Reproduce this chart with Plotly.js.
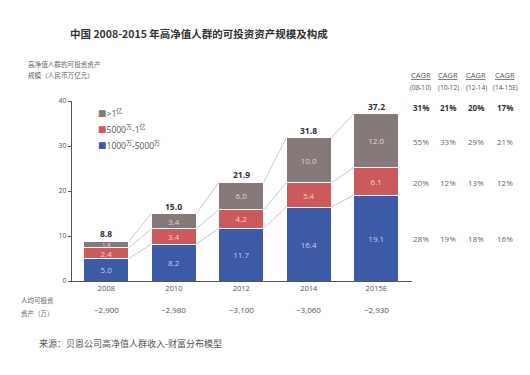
<!DOCTYPE html>
<html>
<head>
<meta charset="utf-8">
<script src="https://cdn.plot.ly/plotly-3.0.1.min.js"></script>
<style>html,body{margin:0;padding:0;background:#fff;}</style>
</head>
<body>
<div id="chart" style="width:530px;height:375px;"></div>
<script>
// ---- data ----
const years = ['2008', '2010', '2012', '2014', '2015E'];
const seg1000_5000 = [5.0, 8.2, 11.7, 16.4, 19.1];   // 1000万-5000万
const seg5000_1yi = [2.4, 3.4, 4.2, 5.4, 6.1];       // 5000万-1亿
const segOver1yi = [1.4, 3.4, 6.0, 10.0, 12.0];      // >1亿
const totals = [8.8, 15.0, 21.9, 31.8, 37.2];
const perCapita = ['~2,900', '~2,980', '~3,100', '~3,060', '~2,930'];
const cagrPeriods = ['(08-10)', '(10-12)', '(12-14)', '(14-15E)'];
const cagrTotal = ['31%', '21%', '20%', '17%'];
const cagrOver1yi = ['55%', '33%', '29%', '21%'];
const cagr5000_1yi = ['20%', '12%', '13%', '12%'];
const cagr1000_5000 = ['28%', '19%', '18%', '16%'];
const legendNames = ['>1<sup>亿</sup>', '5000<sup>万</sup>-1<sup>亿</sup>', '1000<sup>万</sup>-5000<sup>万</sup>'];

// ---- styling ----
const FONT = 'Open Sans, "Noto Sans CJK SC", sans-serif';
const CJK = '"Noto Sans CJK SC", sans-serif';
const BLUE = '#3c5aa6', RED = '#cc5a5b', GRAY = '#85797a';
const L = 72, R = 412, T = 101, B = 281;
const px = x => (x - L) / (R - L);
const py = y => (B - y) / (B - T);
const idx = years.map((_, i) => i);
const BARW = 0.667;

function barTrace(vals, color, txtColor, sizes) {
  return {
    type: 'bar', x: idx, y: vals, width: BARW,
    marker: {color: color, line: {color: '#ffffff', width: 1}},
    texttemplate: '%{y:.1f}', textposition: 'inside', insidetextanchor: 'middle',
    constraintext: 'none', textangle: 0,
    textfont: {family: FONT, size: sizes, color: txtColor},
    hoverinfo: 'skip', showlegend: false
  };
}
const data = [
  barTrace(seg1000_5000, BLUE, '#c4cce8', 8),
  barTrace(seg5000_1yi, RED, '#f4cccc', 8),
  barTrace(segOver1yi, GRAY, '#dcd4d4', [6, 8, 8, 8, 8])
];

// connector lines between consecutive bars
const cum1 = seg1000_5000;
const cum2 = seg1000_5000.map((v, i) => v + seg5000_1yi[i]);
const cum3 = totals;
const shapes = [];
[cum1, cum2, cum3].forEach(c => {
  for (let i = 0; i < c.length - 1; i++) {
    shapes.push({type: 'line', xref: 'x', yref: 'y',
      x0: i + BARW / 2, y0: c[i], x1: i + 1 - BARW / 2, y1: c[i + 1],
      line: {color: '#c9c9c9', width: 1}});
  }
});

const ann = [];
function txt(x, y, text, opts) {
  ann.push(Object.assign({xref: 'paper', yref: 'paper', x: px(x), y: py(y), text: text,
    showarrow: false, xanchor: 'left', yanchor: 'middle',
    font: {family: CJK, size: 7, color: '#666'}}, opts || {}));
}
// title
txt(68, 33, '<b>中国 2008-2015 年高净值人群的可投资资产规模及构成</b>', {font: {family: CJK, size: 10.5, color: '#333'}});
// y title
txt(26, 64, '高净值人群的可投资资产', {font: {family: CJK, size: 6.6, color: '#666'}});
txt(26, 75, '规模（人民币万亿元）', {font: {family: CJK, size: 6.6, color: '#666'}});
// legend
const legColors = [GRAY, RED, BLUE];
const legY = [113, 129, 145];
legendNames.forEach((n, i) => {
  txt(96, legY[i], '<span style="color:' + legColors[i] + '">■</span>' + n,
    {font: {family: FONT, size: 8.5, color: '#555'}});
});
// totals above bars
totals.forEach((t, i) => {
  ann.push({xref: 'x', yref: 'y', x: i, y: t, text: '<b>' + t.toFixed(1) + '</b>', showarrow: false,
    yanchor: 'bottom', yshift: 0, font: {family: FONT, size: 8.5, color: '#333'}});
});
// per-capita row
txt(19, 300, '人均可投资', {font: {family: CJK, size: 6.5, color: '#666'}});
txt(19, 313, '资产（万）', {font: {family: CJK, size: 6.5, color: '#666'}});
perCapita.forEach((v, i) => {
  ann.push({xref: 'x', yref: 'paper', x: i, y: py(309), text: v, showarrow: false,
    xanchor: 'center', yanchor: 'middle', font: {family: FONT, size: 8, color: '#555'}});
});
// CAGR table
const colX = [421, 448, 476, 505];
colX.forEach((cx, j) => {
  const o = {xanchor: 'center'};
  txt(cx, 75, '<u>CAGR</u>', Object.assign({font: {family: FONT, size: 7.5, color: '#555'}}, o));
  txt(cx, 87, cagrPeriods[j], Object.assign({font: {family: FONT, size: 6.6, color: '#555'}}, o));
  txt(cx, 107, '<b>' + cagrTotal[j] + '</b>', Object.assign({font: {family: FONT, size: 8, color: '#333'}}, o));
  txt(cx, 141, cagrOver1yi[j], Object.assign({font: {family: FONT, size: 8, color: '#666'}}, o));
  txt(cx, 182, cagr5000_1yi[j], Object.assign({font: {family: FONT, size: 8, color: '#666'}}, o));
  txt(cx, 238, cagr1000_5000[j], Object.assign({font: {family: FONT, size: 8, color: '#666'}}, o));
});
// source
txt(37, 343, '来源：贝恩公司高净值人群收入-财富分布模型', {font: {family: CJK, size: 9, color: '#555'}});

const layout = {
  width: 530, height: 375,
  margin: {l: L, r: 530 - R, t: T, b: 375 - B, pad: 0},
  paper_bgcolor: '#ffffff', plot_bgcolor: '#ffffff',
  barmode: 'stack', showlegend: false,
  font: {family: FONT},
  xaxis: {range: [-0.51, 4.53], tickvals: idx, ticktext: years, showgrid: false, zeroline: false,
    showline: true, linecolor: '#555', linewidth: 1, ticks: '',
    tickfont: {family: FONT, size: 7.5, color: '#555'}, fixedrange: true},
  yaxis: {range: [0, 40], tickvals: [0, 10, 20, 30, 40], showgrid: false, zeroline: false,
    showline: true, linecolor: '#555', linewidth: 1, ticks: 'outside', ticklen: 3, tickcolor: '#555',
    tickfont: {family: FONT, size: 7, color: '#555'}, fixedrange: true},
  shapes: shapes,
  annotations: ann
};
Plotly.newPlot('chart', data, layout, {displayModeBar: false, staticPlot: true});
</script>
</body>
</html>
